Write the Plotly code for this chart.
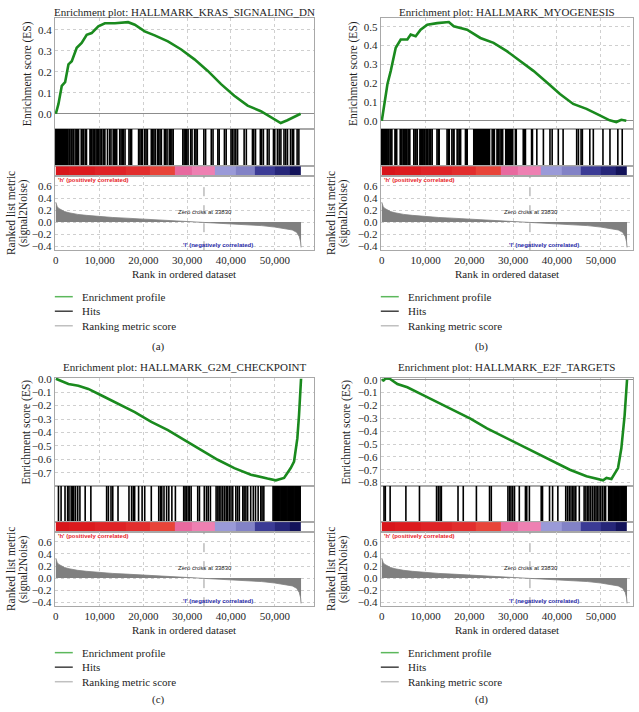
import plotly.graph_objects as go

W, H = 639, 712
N_GENES = 56000
ZERO_CROSS = 33830

titles = ["Enrichment plot: HALLMARK_KRAS_SIGNALING_DN",
          "Enrichment plot: HALLMARK_MYOGENESIS",
          "Enrichment plot: HALLMARK_G2M_CHECKPOINT",
          "Enrichment plot: HALLMARK_E2F_TARGETS"]
panel_labels = ["(a)", "(b)", "(c)", "(d)"]
legend_labels = ["Enrichment profile", "Hits", "Ranking metric score"]

x_ticks = [0, 10000, 20000, 30000, 40000, 50000]
metric_ticks = [-0.4, -0.2, 0.0, 0.2, 0.4, 0.6]
es_ticks_a = [0.0, 0.1, 0.2, 0.3, 0.4]
es_ticks_b = [0.0, 0.1, 0.2, 0.3, 0.4, 0.5]
es_ticks_c = [0.0, -0.1, -0.2, -0.3, -0.4, -0.5, -0.6, -0.7]
es_ticks_d = [0.0, -0.1, -0.2, -0.3, -0.4, -0.5, -0.6, -0.7, -0.8]

# running enrichment score (rank, ES)
es_a_rank = [0, 600, 1360, 2120, 2880, 3640, 4770, 5900, 7050, 8180, 9700, 11200, 13480, 16500, 18030,
             20300, 22570, 25600, 28640, 31660, 34700, 37730, 40750, 43800, 46820, 49100, 51360, 52880, 54400, 55900]
es_a_val = [0.0, 0.047, 0.133, 0.150, 0.235, 0.25, 0.314, 0.337, 0.376, 0.384, 0.416, 0.431, 0.431, 0.436, 0.424,
            0.392, 0.373, 0.345, 0.306, 0.259, 0.204, 0.141, 0.086, 0.039, 0.012, -0.016, -0.044, -0.031, -0.016, 0.0]

es_b_rank = [0, 530, 1290, 2045, 3180, 4320, 5830, 6590, 7730, 8860, 10380, 12650, 15300, 16430, 19470, 22500,
             25520, 28550, 31590, 34620, 37650, 40680, 43700, 46740, 49770, 52040, 53550, 54700, 55830]
es_b_val = [0.0, 0.089, 0.195, 0.265, 0.388, 0.432, 0.432, 0.458, 0.449, 0.484, 0.511, 0.519, 0.525, 0.502, 0.484,
            0.440, 0.414, 0.370, 0.318, 0.265, 0.204, 0.142, 0.089, 0.063, 0.028, 0.002, -0.007, 0.005, 0.0]

es_c_rank = [0, 2880, 5150, 7420, 10450, 14240, 18030, 21800, 25600, 29400, 33200, 36970, 40760, 44550, 48330,
             50230, 52120, 53640, 54400, 55150, 55530, 55900, 56000]
es_c_val = [0.0, -0.039, -0.052, -0.076, -0.125, -0.187, -0.248, -0.322, -0.383, -0.457, -0.530, -0.604, -0.666,
            -0.715, -0.744, -0.757, -0.739, -0.666, -0.617, -0.445, -0.273, -0.074, 0.0]

es_d_rank = [0, 400, 900, 1800, 3560, 5830, 8860, 12650, 16430, 20230, 24020, 27800, 31590, 35380, 39170, 42950,
             46740, 50530, 51300, 52430, 53940, 54700, 55450, 56000]
es_d_val = [0.0, -0.005, 0.012, 0.008, -0.033, -0.059, -0.110, -0.174, -0.238, -0.303, -0.379, -0.444, -0.508,
            -0.572, -0.636, -0.700, -0.751, -0.782, -0.764, -0.772, -0.687, -0.533, -0.277, 0.0]

# gene-set hit positions (rank, thousands)
hits_a_k = [0.0, 0.2, 0.4, 0.6, 0.8, 1.0, 1.3, 1.5, 1.7, 2.0, 2.2, 2.5, 2.7, 3.0, 3.2, 3.5, 3.7, 4.0,
            4.4, 4.7, 5.0, 5.2, 5.8, 6.0, 6.3, 6.7, 7.0, 7.8, 8.0, 8.2, 8.5, 8.7, 8.9, 9.2, 9.5, 9.8, 10.1, 10.4,
            10.8, 11.0, 11.2, 11.8, 12.3, 12.6, 13.1, 13.4, 13.7, 13.9, 14.6, 14.9, 15.2, 15.4, 15.8, 16.7, 17.0,
            17.3, 18.9, 19.2, 19.5, 19.8, 20.3, 20.6, 20.9, 21.8, 22.1, 22.4, 22.7, 23.2, 23.5, 23.8, 24.1, 24.8,
            25.1, 25.4, 25.9, 26.2, 26.5, 26.8, 29.0, 29.3, 29.6, 29.9, 30.2, 30.8, 31.1, 31.7, 32.0, 32.3, 33.8,
            34.2, 35.5, 35.9, 37.0, 37.3, 38.5, 38.9, 40.0, 40.3, 40.7, 41.1, 41.5, 43.0, 43.5, 44.9, 45.2, 45.6,
            46.7, 47.0, 47.4, 48.3, 48.7, 49.7, 50.0, 50.6, 51.0, 51.4, 52.1, 52.5, 52.9, 53.6, 54.0, 54.3, 55.1, 55.5]
hits_b_k = [0.0, 0.2, 0.4, 0.6, 0.8, 1.0, 1.2, 1.4, 1.6, 1.9, 2.1, 2.3, 3.0, 3.2, 3.4, 4.2, 4.4, 4.6, 4.9, 5.1,
            5.3, 5.5, 5.7, 6.0, 6.2, 6.4, 7.3, 7.6, 7.8, 8.1, 8.7, 8.9, 9.1, 9.3, 9.6, 9.8, 10.1, 10.3, 10.5, 10.8,
            11.0, 11.2, 11.5, 12.6, 12.9, 13.1, 14.9, 15.2, 15.4, 16.0, 16.3, 16.5, 17.2, 17.4, 17.7, 18.0, 19.1,
            19.3, 19.5, 21.0, 21.2, 21.4, 21.6, 21.9, 22.1, 22.3, 22.5, 22.7, 23.0, 23.2, 23.4, 23.7, 23.9, 24.1,
            24.3, 24.6, 25.2, 25.5, 25.7, 26.3, 26.5, 26.7, 27.0, 27.3, 27.6, 28.3, 28.5, 28.7, 29.0, 29.2, 29.4,
            29.6, 29.9, 30.5, 30.7, 32.3, 32.6, 32.8, 34.2, 34.4, 35.4, 36.9, 38.4, 38.9, 40.3, 41.4, 44.5, 44.9,
            45.5, 45.8, 47.5, 48.3, 50.5, 52.1, 53.9, 54.9]
hits_c_k = [0.6, 1.2, 2.1, 2.7, 3.0, 3.5, 3.8, 4.1, 4.5, 5.0, 5.5, 6.7, 8.0, 11.6, 12.0, 12.6, 13.0, 14.2, 16.7,
            17.3, 17.7, 18.0, 18.9, 19.7, 20.3, 21.8, 23.5, 23.9, 24.2, 24.7, 25.3, 25.8, 26.5, 27.3, 29.2, 29.5,
            29.8, 30.2, 30.5, 30.9, 32.4, 32.8, 33.9, 34.4, 34.8, 35.3, 36.6, 37.0, 37.3, 37.7, 38.1, 38.5, 38.9,
            39.2, 39.6, 40.0, 40.4, 41.1, 41.5, 41.9, 42.7, 43.0, 43.4, 43.8, 44.5, 45.1, 45.6, 46.2, 46.8, 47.1,
            47.5, 49.6, 49.8, 50.0, 50.2, 50.4, 50.6, 50.8, 51.0, 51.2, 51.4, 51.6, 51.8, 52.0, 52.2, 52.4, 52.6,
            52.8, 53.0, 53.2, 53.4, 53.6, 53.8, 54.0, 54.2, 54.4, 54.6, 54.8, 55.0, 55.2, 55.4, 55.6, 55.8]
hits_d_k = [0.5, 0.8, 1.9, 5.5, 8.6, 12.5, 12.9, 13.3, 13.6, 17.4, 18.6, 21.6, 24.6, 25.0, 28.8, 29.2, 29.5, 29.9,
            30.3, 31.4, 32.8, 33.1, 33.7, 36.4, 36.7, 38.3, 39.0, 40.2, 42.0, 42.4, 42.8, 43.2, 43.6, 43.9, 44.3,
            45.1, 46.2, 46.6, 47.0, 47.3, 47.7, 48.1, 48.5, 48.9, 49.2, 49.6, 50.0, 50.4, 50.8, 51.1, 51.8, 52.0,
            52.2, 52.4, 52.6, 52.8, 53.0, 53.2, 53.4, 53.6, 53.8, 54.0, 54.2, 54.4, 54.6, 54.8, 55.0, 55.2, 55.4,
            55.6, 55.8]

# ranked list metric (signal2Noise) along the ranked list
metric_rank = [0, 100, 300, 600, 1000, 1500, 2000, 3000, 4000, 5000, 7000, 10000, 13000, 16000, 20000, 24000,
               28000, 31000, 33000, 33830, 35000, 38000, 41000, 44000, 47000, 50000, 52000, 54000, 55000, 55600,
               55900, 56000]
metric_val = [0.33, 0.30, 0.26, 0.23, 0.21, 0.19, 0.175, 0.155, 0.14, 0.128, 0.112, 0.09, 0.077, 0.066, 0.05,
              0.038, 0.025, 0.015, 0.005, 0.0, -0.004, -0.014, -0.025, -0.042, -0.058, -0.082, -0.1, -0.13,
              -0.17, -0.24, -0.33, -0.42]

# ranked-list colour band
band_edges = [0, 3000, 9000, 16000, 21500, 27200, 31000, 36400, 41000, 45500, 50000, 53500, 56000]
band_colors = ["#d8151b", "#dc1a1e", "#df2226", "#e22d2d", "#e84439", "#e8699f", "#ee80b2",
               "#9a9ad8", "#8282c6", "#3b3b95", "#262679", "#13135a"]

SERIF = "Liberation Serif"
SANS = "Liberation Sans"
FRAME = "#a8a8a8"
GRID = "#cfcfcf"
ES_GREEN = "#1a8a1e"
TXT = "#1e1e1e"
FS = 11

panels = [
    dict(es_r=es_a_rank, es_v=es_a_val, hits=hits_a_k, ticks=es_ticks_a, rng=[-0.0706, 0.4565]),
    dict(es_r=es_b_rank, es_v=es_b_val, hits=hits_b_k, ticks=es_ticks_b, rng=[-0.042, 0.547]),
    dict(es_r=es_c_rank, es_v=es_c_val, hits=hits_c_k, ticks=es_ticks_c, rng=[-0.796, 0.0074]),
    dict(es_r=es_d_rank, es_v=es_d_val, hits=hits_d_k, ticks=es_ticks_d, rng=[-0.823, 0.0154]),
]

# layout in page pixels
col_x = [(53, 313), (380, 633)]
col_xrange = [[-228, 58960], [-228, 57365]]
row_y = [[(13, 125), (125, 163), (163, 173), (173, 248)],
         [(377, 486), (486, 523), (523, 533), (533, 608)]]
row_off = [0, 360]
title_y = [7, 366]
es_title_x = [25, 352, 25, 346]
met_title_x = [(9, 21), (330, 342), (9, 21), (330, 342)]
label_x = [157, 481]

fig = go.Figure()
layout = dict(width=W, height=H, margin=dict(l=0, r=0, t=0, b=0), paper_bgcolor="white",
              plot_bgcolor="white", showlegend=False)
annotations = []
shapes = []


def px(xp):
    return xp / W


def py(yp):
    return 1 - yp / H


n_band = len(band_colors)
band_scale = []
for i, c in enumerate(band_colors):
    band_scale.append([i / n_band, c])
    band_scale.append([(i + 1) / n_band, c])

for p, P in enumerate(panels):
    col, row = p % 2, p // 2
    xd = [px(col_x[col][0]), px(col_x[col][1])]
    for s in range(4):
        idx = p * 4 + s + 1
        xa = "xaxis" if idx == 1 else f"xaxis{idx}"
        ya = "yaxis" if idx == 1 else f"yaxis{idx}"
        xr = "x" if idx == 1 else f"x{idx}"
        yr = "y" if idx == 1 else f"y{idx}"
        t, b = row_y[row][s]
        layout[xa] = dict(domain=xd, range=col_xrange[col], anchor=yr, showgrid=(s in (0, 3)),
                          gridcolor=GRID, griddash="dot", gridwidth=1, tickvals=x_ticks,
                          showticklabels=(s == 3), tickformat=",", ticks="", showline=True, mirror=True,
                          linecolor=FRAME, linewidth=1, zeroline=False,
                          tickfont=dict(family=SERIF, size=FS, color=TXT))
        ydict = dict(domain=[py(b), py(t)], anchor=xr, showline=True, mirror=True, linecolor=FRAME,
                     linewidth=1, ticks="", zeroline=False, showgrid=(s in (0, 3)), gridcolor=GRID,
                     griddash="dot", gridwidth=1, tickfont=dict(family=SERIF, size=FS, color=TXT))
        if s == 0:
            ydict.update(range=P["rng"], tickvals=P["ticks"], tickformat=".1f", zeroline=True,
                         zerolinecolor="#8c8c8c", zerolinewidth=1)
            fig.add_trace(go.Scatter(x=P["es_r"], y=P["es_v"], mode="lines", xaxis=xr, yaxis=yr,
                                     line=dict(color=ES_GREEN, width=2.6), hoverinfo="skip"))
        elif s == 1:
            ydict.update(range=[0, 1], showticklabels=False)
            hx, hy = [], []
            for h in P["hits"]:
                hx += [h * 1000, h * 1000, None]
                hy += [0, 1, None]
            fig.add_trace(go.Scatter(x=hx, y=hy, mode="lines", xaxis=xr, yaxis=yr,
                                     line=dict(color="#000000", width=1.6), hoverinfo="skip"))
        elif s == 2:
            ydict.update(range=[0, 1], showticklabels=False)
            fig.add_trace(go.Heatmap(x=band_edges, y=[0, 1], z=[list(range(n_band))], xaxis=xr, yaxis=yr,
                                     colorscale=band_scale, zmin=0, zmax=n_band, showscale=False,
                                     hoverinfo="skip"))
        else:
            ydict.update(range=[-0.466, 0.764], tickvals=metric_ticks, tickformat=".1f")
            fig.add_trace(go.Scatter(x=metric_rank, y=metric_val, mode="lines", fill="tozeroy",
                                     fillcolor="#808080", xaxis=xr, yaxis=yr,
                                     line=dict(color="#808080", width=0.8), hoverinfo="skip"))
            shapes.append(dict(type="line", xref=xr, yref=f"{yr} domain", x0=ZERO_CROSS, x1=ZERO_CROSS,
                               y0=0, y1=1, line=dict(color="#9a9a9a", width=1, dash="dash")))
            off = row_off[row]
            annotations.append(dict(text="<b>'h' (positively correlated)</b>", xref=f"{xr} domain", x=0.005,
                                    xanchor="left", yref="paper", y=py(177 + off), yanchor="middle",
                                    showarrow=False, font=dict(family=SANS, size=6, color="#e8231f")))
            annotations.append(dict(text=f"Zero cross at {ZERO_CROSS}", xref=xr, x=ZERO_CROSS + 300,
                                    xanchor="center", yref="paper", y=py(209 + off), yanchor="middle",
                                    showarrow=False, font=dict(family=SANS, size=6, color="#222")))
            annotations.append(dict(text="<b>'l' (negatively correlated)</b>", xref=xr, x=37000,
                                    xanchor="center", yref="paper", y=py(243 + off), yanchor="middle",
                                    showarrow=False, font=dict(family=SANS, size=6, color="#2a2aa8")))
        layout[ya] = ydict

    off = row_off[row]
    cx = (col_x[col][0] + col_x[col][1]) / 2
    annotations.append(dict(text=titles[p], xref="paper", yref="paper", x=px(cx), y=py(title_y[row]),
                            xanchor="center", yanchor="middle", showarrow=False,
                            font=dict(family=SERIF, size=FS, color=TXT)))
    es_t, es_b = row_y[row][0]
    annotations.append(dict(text="Enrichment score (ES)", xref="paper", yref="paper", x=px(es_title_x[p]),
                            y=py((es_t + es_b) / 2), textangle=-90, xanchor="center", yanchor="middle",
                            showarrow=False, font=dict(family=SERIF, size=11.5, color=TXT)))
    m_t, m_b = row_y[row][3]
    for k, txt in enumerate(["Ranked list metric", "(signal2Noise)"]):
        annotations.append(dict(text=txt, xref="paper", yref="paper", x=px(met_title_x[p][k]),
                                y=py((m_t + m_b) / 2), textangle=-90, xanchor="center", yanchor="middle",
                                showarrow=False, font=dict(family=SERIF, size=11.5, color=TXT)))
    annotations.append(dict(text="Rank in ordered dataset", xref="paper", yref="paper", x=px(cx),
                            y=py(272 + off), xanchor="center", yanchor="middle", showarrow=False,
                            font=dict(family=SERIF, size=FS, color=TXT)))
    leg_colors = ["#5cb85c", "#404040", "#c0c0c0"]
    for k, lab in enumerate(legend_labels):
        yy = py(295 + off + 14.7 * k)
        x0 = col_x[col][0]
        shapes.append(dict(type="line", xref="paper", yref="paper", x0=px(x0), x1=px(x0 + 18), y0=yy, y1=yy,
                           line=dict(color=leg_colors[k], width=1.5)))
        annotations.append(dict(text=lab, xref="paper", yref="paper", x=px(x0 + 25), y=yy, xanchor="left",
                                yanchor="middle", showarrow=False,
                                font=dict(family=SERIF, size=FS, color=TXT)))
    annotations.append(dict(text=panel_labels[p], xref="paper", yref="paper", x=px(label_x[col]),
                            y=py(345 + off - (3 if row else 0)), xanchor="center", yanchor="middle",
                            showarrow=False, font=dict(family=SERIF, size=FS, color=TXT)))

layout["annotations"] = annotations
layout["shapes"] = shapes
fig.update_layout(**layout)
# remove the browser's default 8px page margin so the 639x712 figure fills the window exactly
fig.write_html("out.html", config={"displayModeBar": False},
               post_script="document.body.style.margin='0px';")
